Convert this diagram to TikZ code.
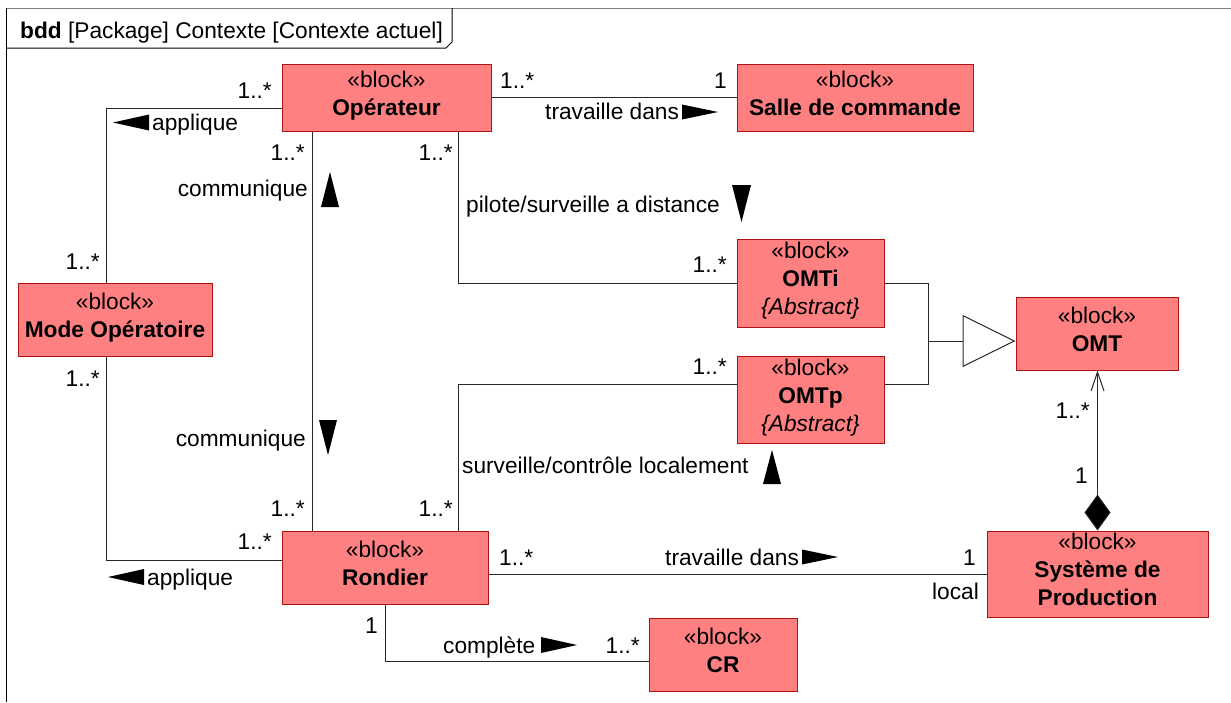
\documentclass[tikz,border=0pt]{standalone}
\usepackage{fontspec}
\setmainfont{Liberation Sans}
\usetikzlibrary{arrows.meta}
\definecolor{blkfill}{RGB}{255,128,128}
\definecolor{blkline}{RGB}{170,20,20}
\definecolor{lnc}{RGB}{40,40,40}
\newcommand\dpstrut{\rule[-9pt]{0pt}{9pt}}
\begin{document}
\begin{tikzpicture}[x=1pt,y=-1pt,
  every node/.style={font=\fontsize{22.7}{28}\selectfont},
  blk/.style={draw=blkline, fill=blkfill, line width=1pt, inner sep=0pt, align=center},
  lbl/.style={inner sep=0pt, text height=16.3pt, text depth=0pt},
  conn/.style={draw=lnc, line width=1pt},
  dirtri/.style={fill=black},
]
\useasboundingbox (0,0) rectangle (1231,702);
% frame
\draw[gray, line width=1pt] (6,8) -- (1231,8);
\draw[black, line width=1pt] (6,8) -- (6,702);
\draw[black, line width=1pt] (6,48) -- (446,48) -- (452,42) -- (452,8);
\node[lbl, anchor=west] (title) at (20,30) {\textbf{bdd} [Package] Contexte [Contexte actuel]};

% blocks
\node[blk, minimum width=209pt, minimum height=67pt] (op) at (386.5,97.5) {«block»\\\textbf{Opérateur}\dpstrut};
\node[blk, minimum width=236pt, minimum height=67pt] (salle) at (855,97.5) {«block»\\\textbf{Salle de commande}\dpstrut};
\node[blk, minimum width=147pt, minimum height=88pt] (omti) at (810.5,283) {«block»\\\textbf{OMTi}\\\textit{\{Abstract\}}\dpstrut};
\node[blk, minimum width=147pt, minimum height=87pt] (omtp) at (810.5,399.5) {«block»\\\textbf{OMTp}\\\textit{\{Abstract\}}\dpstrut};
\node[blk, minimum width=162pt, minimum height=73pt] (omt) at (1097,333.5) {«block»\\\textbf{OMT}\dpstrut};
\node[blk, minimum width=221pt, minimum height=86pt] (sys) at (1097.5,574) {«block»\\\textbf{Système de}\\\textbf{Production}\dpstrut};
\node[blk, minimum width=194pt, minimum height=73pt] (mode) at (115,319.5) {«block»\\\textbf{Mode Opératoire}\dpstrut};
\node[blk, minimum width=206pt, minimum height=73pt] (ron) at (385,567.5) {«block»\\\textbf{Rondier}\dpstrut};
\node[blk, minimum width=148pt, minimum height=73pt] (cr) at (723,654.5) {«block»\\\textbf{CR}\dpstrut};

% Operateur - Salle de commande
\draw[conn] (op.east) -- (salle.west);
\node[lbl, anchor=west] (m1) at (500,80) {1..*};
\node[lbl, anchor=east] (m2) at (727,80) {1};
\node[lbl, anchor=west] (t1) at (545,111) {travaille dans};
\fill[dirtri] (682,104.5) -- (718,112) -- (682,119.5) -- cycle;

% Operateur - Mode Operatoire
\draw[conn] ([yshift=-10.5pt]op.west) -| ([xshift=-9pt]mode.north);
\node[lbl, anchor=east] (m3) at (272,90) {1..*};
\node[lbl, anchor=east] (m4) at (100,261.5) {1..*};
\node[lbl, anchor=west] (t2) at (152,122.5) {applique};
\fill[dirtri] (149,114.5) -- (113,122.5) -- (149,130.5) -- cycle;

% Operateur - Rondier
\draw[conn] ([xshift=-74.5pt]op.south) -- ([xshift=-74.5pt]op.south |- ron.north);
\node[lbl, anchor=east] (m5) at (305,152) {1..*};
\node[lbl, anchor=east] (t3) at (308,188.5) {communique};
\fill[dirtri] (321,207) -- (330,172) -- (339,207) -- cycle;
\node[lbl, anchor=east] (t4) at (306,438) {communique};
\fill[dirtri] (319,420) -- (337,420) -- (328,455) -- cycle;
\node[lbl, anchor=east] (m6) at (305,508) {1..*};

% Mode Operatoire - Rondier
\draw[conn] ([xshift=-9pt]mode.south) |- ([yshift=7.5pt]ron.west);
\node[lbl, anchor=east] (m7) at (100,378) {1..*};
\node[lbl, anchor=east] (m8) at (272,541) {1..*};
\node[lbl, anchor=west] (t5) at (147,577) {applique};
\fill[dirtri] (144,569) -- (108,577) -- (144,585) -- cycle;

% Operateur - OMTi
\draw[conn] ([xshift=71.5pt]op.south) |- (omti.west);
\node[lbl, anchor=east] (m9) at (453,152) {1..*};
\node[lbl, anchor=east] (m10) at (727,264) {1..*};
\node[lbl, anchor=west] (t6) at (466,204.5) {pilote/surveille a distance};
\fill[dirtri] (732,185) -- (751,185) -- (741.5,222) -- cycle;

% Rondier - OMTp
\draw[conn] ([xshift=73pt]ron.north) |- ([yshift=15.5pt]omtp.west);
\node[lbl, anchor=east] (m11) at (453,508) {1..*};
\node[lbl, anchor=east] (m12) at (727,366) {1..*};
\node[lbl, anchor=west] (t7) at (462,465) {surveille/contrôle localement};
\fill[dirtri] (763,484) -- (772,450) -- (781,484) -- cycle;

% generalization
\coordinate (gj) at (928,341);
\draw[conn] (omti.east) -| (gj);
\draw[conn] ([yshift=15.5pt]omtp.east) -| (gj);
\draw[conn, -{Triangle[open,length=53pt,width=52pt]}] (gj) -- ([yshift=-7.5pt]omt.west);

% composition
\draw[conn, {Diamond[length=36pt,width=26pt,fill=black]}-{Straight Barb[length=19pt,width=13pt]}] (sys.north) -- (sys.north |- omt.south);
\node[lbl, anchor=east] (m13) at (1090,410) {1..*};
\node[lbl, anchor=east] (m14) at (1088,475) {1};

% Rondier - Systeme
\draw[conn] ([yshift=-6.5pt]ron.east) -- (sys.west);
\node[lbl, anchor=west] (m15) at (499,557) {1..*};
\node[lbl, anchor=west] (t8) at (665,557) {travaille dans};
\fill[dirtri] (802,549.5) -- (838,557) -- (802,564.5) -- cycle;
\node[lbl, anchor=east] (m16) at (976,557.5) {1};
\node[lbl, anchor=east] (t9) at (979,591) {local};

% Rondier - CR
\draw[conn] (ron.south) |- ([yshift=-6.5pt]cr.west);
\node[lbl, anchor=east] (m17) at (378,625) {1};
\node[lbl, anchor=west] (t10) at (443,645) {complète};
\fill[dirtri] (541,637) -- (577,645) -- (541,653) -- cycle;
\node[lbl, anchor=east] (m18) at (640,645) {1..*};
\end{tikzpicture}
\end{document}
